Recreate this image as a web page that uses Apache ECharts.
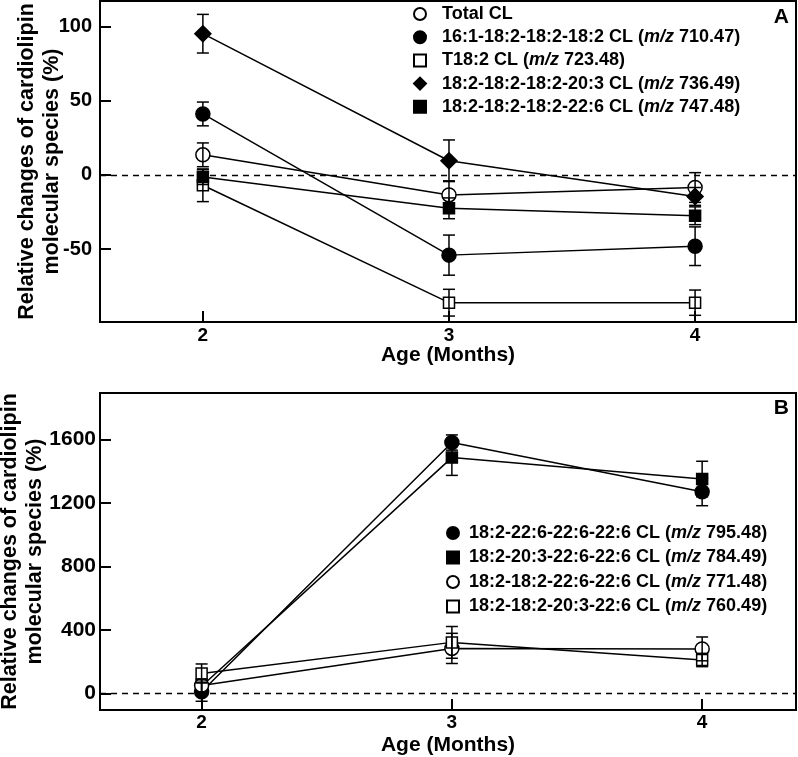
<!DOCTYPE html>
<html>
<head>
<meta charset="utf-8">
<script src="https://cdn.jsdelivr.net/npm/echarts@6/dist/echarts.min.js"></script>
<style>
  html, body { margin: 0; padding: 0; background: #fff; }
  #chart { width: 798px; height: 757px; }
</style>
</head>
<body>
<div id="chart"></div>
<script>
// x positions (age in months)
const months = [2, 3, 4];

// Panel A: relative changes (%) and error bars
const namesA = [
  'Total CL',
  '16:1-18:2-18:2-18:2 CL (m/z 710.47)',
  'T18:2 CL (m/z 723.48)',
  '18:2-18:2-18:2-20:3 CL (m/z 736.49)',
  '18:2-18:2-18:2-22:6 CL (m/z 747.48)'
];
const totalCL = [13.5, -13.5, -8.5];
const totalCLErr = [8, 9.5, 10];
const cl710 = [41, -54, -48];
const cl710Err = [8, 13.5, 13];
const cl723 = [-7, -86, -86];
const cl723Err = [11, 9, 8.5];
const cl736 = [95, 9.5, -14.5];
const cl736Err = [13, 14, 6];
const cl747 = [-1.5, -22.5, -27.5];
const cl747Err = [5, 7, 6];
const ticksA = [-50, 0, 50, 100];

// Panel B
const namesB = [
  '18:2-22:6-22:6-22:6 CL (m/z 795.48)',
  '18:2-20:3-22:6-22:6 CL (m/z 784.49)',
  '18:2-18:2-22:6-22:6 CL (m/z 771.48)',
  '18:2-18:2-20:3-22:6 CL (m/z 760.49)'
];
const cl795 = [10, 1580, 1270];
const cl795Err = [60, 48, 88];
const cl784 = [45, 1485, 1350];
const cl784Err = [40, 112, 112];
const cl771 = [50, 283, 280];
const cl771Err = [40, 95, 75];
const cl760 = [125, 321, 210];
const cl760Err = [60, 100, 42];
const ticksB = [0, 400, 800, 1200, 1600];

const FONT = "'Liberation Sans', Arial, Helvetica, sans-serif";

const chart = echarts.init(document.getElementById('chart'), null, { renderer: 'canvas' });

// error bar with caps
const renderErr = (params, api) => {
  const x = api.value(0);
  const y = api.value(1);
  const e = api.value(2);
  const top = api.coord([x, y + e]);
  const bot = api.coord([x, y - e]);
  const w = 6;
  const st = { stroke: '#000', lineWidth: 1.5 };
  return {
    type: 'group',
    children: [
      { type: 'line', shape: { x1: top[0], y1: top[1], x2: bot[0], y2: bot[1] }, style: st },
      { type: 'line', shape: { x1: top[0] - w, y1: top[1], x2: top[0] + w, y2: top[1] }, style: st },
      { type: 'line', shape: { x1: bot[0] - w, y1: bot[1], x2: bot[0] + w, y2: bot[1] }, style: st }
    ]
  };
};

const markers = {
  openCircle: { symbol: 'circle', size: 14, fill: '#fff' },
  filledCircle: { symbol: 'circle', size: 14, fill: '#000' },
  openSquare: { symbol: 'rect', size: 11, fill: '#fff' },
  filledSquare: { symbol: 'rect', size: 11, fill: '#000' },
  diamond: { symbol: 'diamond', size: 16, fill: '#000' }
};

const zeroLine = {
  silent: true,
  symbol: ['none', 'none'],
  label: { show: false },
  lineStyle: { type: [6, 5], color: '#000', width: 1.3 },
  data: [{ yAxis: 0 }]
};

const series = [];
const addSeries = (name, vals, errs, mk, gridIdx, withZero) => {
  series.push({
    name: name,
    type: 'line',
    xAxisIndex: gridIdx,
    yAxisIndex: gridIdx,
    data: months.map((m, i) => [m, vals[i]]),
    symbol: mk.symbol,
    symbolSize: mk.size,
    lineStyle: { color: '#000', width: 1.5 },
    itemStyle: { color: mk.fill, borderColor: '#000', borderWidth: 1.5 },
    z: 3,
    markLine: withZero ? zeroLine : undefined
  });
  series.push({
    type: 'custom',
    xAxisIndex: gridIdx,
    yAxisIndex: gridIdx,
    renderItem: renderErr,
    data: months.map((m, i) => [m, vals[i], errs[i]]),
    encode: { x: 0, y: 1 },
    z: 4
  });
};

addSeries(namesA[0], totalCL, totalCLErr, markers.openCircle, 0, true);
addSeries(namesA[1], cl710, cl710Err, markers.filledCircle, 0, false);
addSeries(namesA[2], cl723, cl723Err, markers.openSquare, 0, false);
addSeries(namesA[3], cl736, cl736Err, markers.diamond, 0, false);
addSeries(namesA[4], cl747, cl747Err, markers.filledSquare, 0, false);

addSeries(namesB[0], cl795, cl795Err, markers.filledCircle, 1, true);
addSeries(namesB[1], cl784, cl784Err, markers.filledSquare, 1, false);
addSeries(namesB[2], cl771, cl771Err, markers.openCircle, 1, false);
addSeries(namesB[3], cl760, cl760Err, markers.openSquare, 1, false);

const legendText = {
  fontFamily: FONT,
  fontSize: 18,
  fontWeight: 'bold',
  color: '#000',
  lineHeight: 20,
  rich: {
    i: { fontFamily: FONT, fontSize: 18, fontWeight: 'bold', fontStyle: 'italic', color: '#000' }
  }
};
const legendFmt = (name) => name.replace('m/z', '{i|m/z}');

const xAxisBase = (min, max, labelMargin, nameGap) => ({
  type: 'value',
  min: min,
  max: max,
  name: 'Age (Months)',
  nameLocation: 'middle',
  nameGap: nameGap,
  nameMoveOverlap: false,
  nameTextStyle: { fontFamily: FONT, fontSize: 21, fontWeight: 'bold', color: '#000' },
  axisLine: { show: true, onZero: false, lineStyle: { color: '#000', width: 2 } },
  axisTick: { show: true, inside: true, length: 11, customValues: months, lineStyle: { color: '#000', width: 2 } },
  axisLabel: { customValues: months, margin: labelMargin, fontFamily: FONT, fontSize: 19, fontWeight: 'bold', color: '#000' },
  splitLine: { show: false }
});

const yAxisBase = (min, max, ticks, labelMargin, labelSize, nameGap) => ({
  type: 'value',
  min: min,
  max: max,
  name: 'Relative changes of cardiolipin\nmolecular species (%)',
  nameLocation: 'middle',
  nameGap: nameGap,
  nameMoveOverlap: false,
  nameTextStyle: { fontFamily: FONT, fontSize: 21.5, fontWeight: 'bold', color: '#000', lineHeight: 25, align: 'center' },
  axisLine: { show: true, onZero: false, lineStyle: { color: '#000', width: 2 } },
  axisTick: { show: true, inside: true, length: 11, customValues: ticks, lineStyle: { color: '#000', width: 2 } },
  axisLabel: {
    customValues: ticks, margin: labelMargin, fontFamily: FONT, fontSize: labelSize, fontWeight: 'bold', color: '#000',
    formatter: (v) => String(v)
  },
  splitLine: { show: false }
});

const option = {
  animation: false,
  backgroundColor: '#fff',
  textStyle: { fontFamily: FONT },
  grid: [
    { left: 100, top: 1, width: 696, height: 321, show: true, borderColor: '#000', borderWidth: 2, containLabel: false, outerBoundsMode: 'none' },
    { left: 100, top: 393, width: 696, height: 317, show: true, borderColor: '#000', borderWidth: 2, containLabel: false, outerBoundsMode: 'none' }
  ],
  xAxis: [
    Object.assign(xAxisBase(1.582, 4.41, 4, 23), { gridIndex: 0 }),
    Object.assign(xAxisBase(1.594, 4.375, 3, 25), { gridIndex: 1 })
  ],
  yAxis: [
    Object.assign(yAxisBase(-99, 117, ticksA, 8, 20, 35), { gridIndex: 0 }),
    Object.assign(yAxisBase(-105, 1892, ticksB, 4, 21, 52), { gridIndex: 1 })
  ],
  legend: [
    {
      orient: 'vertical',
      left: 413,
      top: 4,
      padding: 0,
      itemWidth: 12,
      itemHeight: 12,
      itemGap: 3.2,
      selectedMode: false,
      data: [
        { name: namesA[0], icon: 'circle' },
        { name: namesA[1], icon: 'circle' },
        { name: namesA[2], icon: 'rect' },
        { name: namesA[3], icon: 'diamond' },
        { name: namesA[4], icon: 'rect' }
      ],
      formatter: legendFmt,
      textStyle: Object.assign({ padding: [0, 0, 0, 11] }, legendText)
    },
    {
      orient: 'vertical',
      left: 446,
      top: 523,
      padding: 0,
      itemWidth: 12,
      itemHeight: 12,
      itemGap: 4.5,
      selectedMode: false,
      data: [
        { name: namesB[0], icon: 'circle' },
        { name: namesB[1], icon: 'rect' },
        { name: namesB[2], icon: 'circle' },
        { name: namesB[3], icon: 'rect' }
      ],
      formatter: legendFmt,
      textStyle: Object.assign({ padding: [0, 0, 0, 5] }, legendText)
    }
  ],
  graphic: [
    { type: 'text', right: 9, top: 7, style: { text: 'A', fontFamily: FONT, fontSize: 21, fontWeight: 'bold', fill: '#000' } },
    { type: 'text', right: 9, top: 398, style: { text: 'B', fontFamily: FONT, fontSize: 21, fontWeight: 'bold', fill: '#000' } }
  ],
  series: series
};

chart.setOption(option);
</script>
</body>
</html>
